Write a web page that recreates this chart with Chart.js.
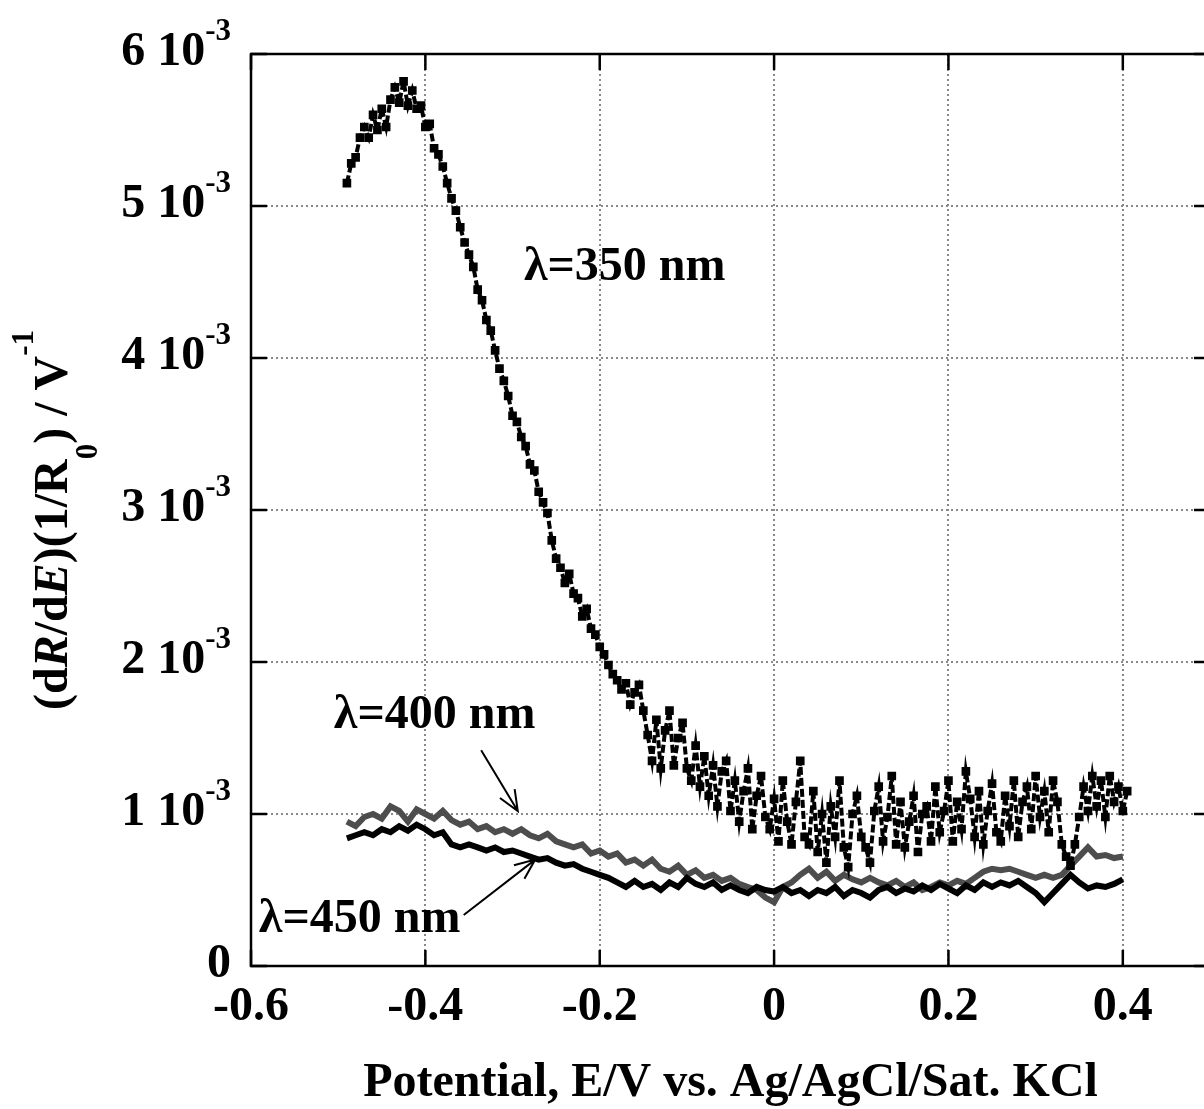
<!DOCTYPE html>
<html><head><meta charset="utf-8">
<script src="https://cdn.jsdelivr.net/npm/chart.js@4.4.1/dist/chart.umd.min.js"></script>
<style>
html,body{margin:0;padding:0;overflow:hidden;background:#fff;}
#wrap{width:1240px;height:1109px;position:relative;}
</style></head><body>
<div id="wrap"><canvas id="c"></canvas></div>
<script>
// Potential (V) for the 350 nm trace
const E350 = [
-0.490,-0.485,-0.480,-0.475,-0.470,-0.465,-0.460,-0.455,-0.450,-0.445,-0.440,-0.435,-0.430,-0.425,-0.420,-0.415,-0.410,
-0.405,-0.400,-0.395,-0.390,-0.385,-0.380,-0.375,-0.370,-0.365,-0.360,-0.355,-0.350,-0.345,-0.340,-0.335,-0.330,-0.325,-0.320,-0.315,-0.310,
-0.305,-0.300,-0.295,-0.290,-0.285,-0.280,-0.275,-0.270,-0.265,-0.260,-0.255,-0.250,-0.245,-0.240,-0.235,-0.230,-0.225,-0.220,-0.215,-0.210,
-0.205,-0.200,-0.195,-0.190,-0.185,-0.180,-0.175,-0.170,-0.165,-0.160,-0.155,-0.150,-0.145,-0.140,-0.135,-0.130,-0.125,-0.120,-0.115,-0.110,
-0.105,-0.100,-0.095,-0.090,-0.085,-0.080,-0.075,-0.070,-0.065,-0.060,-0.055,-0.050,-0.045,-0.040,-0.035,-0.030,-0.025,-0.020,-0.015,-0.010,
-0.005,0.000,0.005,0.010,0.015,0.020,0.025,0.030,0.035,0.040,0.045,0.050,0.055,0.060,0.065,0.070,0.075,0.080,0.085,0.090,
0.095,0.100,0.105,0.110,0.115,0.120,0.125,0.130,0.135,0.140,0.145,0.150,0.155,0.160,0.165,0.170,0.175,0.180,0.185,0.190,
0.195,0.200,0.205,0.210,0.215,0.220,0.225,0.230,0.235,0.240,0.245,0.250,0.255,0.260,0.265,0.270,0.275,0.280,0.285,0.290,
0.295,0.300,0.305,0.310,0.315,0.320,0.325,0.330,0.335,0.340,0.345,0.350,0.355,0.360,0.365,0.370,0.375,0.380,0.385,0.390,0.395,0.400,0.405
];
// (dR/dE)(1/R0) at 350 nm, in units of 10^-3 V^-1
const R350 = [
5.15,5.28,5.32,5.45,5.52,5.45,5.60,5.50,5.64,5.52,5.70,5.78,5.68,5.82,5.66,5.76,5.64,
5.66,5.52,5.54,5.38,5.34,5.26,5.15,5.05,4.97,4.86,4.76,4.68,4.60,4.45,4.38,4.25,4.18,4.05,3.93,3.85,
3.75,3.62,3.58,3.48,3.42,3.30,3.26,3.12,3.05,2.98,2.80,2.68,2.62,2.52,2.58,2.45,2.42,2.30,2.35,2.22,
2.18,2.10,2.05,1.98,1.92,1.88,1.82,1.86,1.72,1.80,1.85,1.68,1.52,1.35,1.62,1.30,1.55,1.68,1.32,1.50,
1.60,1.30,1.22,1.45,1.18,1.38,1.12,1.32,1.05,1.28,1.35,1.02,1.22,0.95,1.15,1.30,0.90,1.12,1.25,0.98,
0.90,1.10,0.82,1.22,0.95,0.80,1.08,1.35,0.85,0.80,1.15,0.75,1.00,0.68,1.05,0.85,1.22,0.78,0.65,1.00,
1.12,0.85,0.78,0.68,1.02,1.18,0.82,0.98,1.25,0.80,1.08,0.78,0.95,1.12,0.75,1.00,1.05,0.82,1.18,0.88,
1.02,1.22,0.82,1.08,0.90,1.28,1.10,0.85,1.15,0.80,1.02,1.20,0.88,0.82,1.12,0.92,1.22,0.85,1.08,1.18,
0.90,1.25,0.98,1.15,0.88,1.22,1.08,0.80,0.72,0.66,0.80,0.98,1.18,1.02,1.25,1.05,1.22,0.98,1.25,1.08,1.18,1.02,1.15
];
// Potential (V) for the 400 nm and 450 nm traces
const E_LOW = [
-0.49,-0.48,-0.47,-0.46,-0.45,-0.44,-0.43,-0.42,-0.41,-0.40,
-0.39,-0.38,-0.37,-0.36,-0.35,-0.34,-0.33,-0.32,-0.31,-0.30,
-0.29,-0.28,-0.27,-0.26,-0.25,-0.24,-0.23,-0.22,-0.21,-0.20,
-0.19,-0.18,-0.17,-0.16,-0.15,-0.14,-0.13,-0.12,-0.11,-0.10,
-0.09,-0.08,-0.07,-0.06,-0.05,-0.04,-0.03,-0.02,-0.01,0.00,
0.01,0.02,0.03,0.04,0.05,0.06,0.07,0.08,0.09,0.10,
0.11,0.12,0.13,0.14,0.15,0.16,0.17,0.18,0.19,0.20,
0.21,0.22,0.23,0.24,0.25,0.26,0.27,0.28,0.29,0.30,
0.31,0.32,0.33,0.34,0.35,0.36,0.37,0.38,0.39,0.40
];
const R400 = [
0.95,0.92,0.98,1.00,0.97,1.05,1.02,0.95,1.03,1.00,
0.97,1.02,0.96,0.93,0.95,0.90,0.92,0.88,0.90,0.87,
0.90,0.86,0.84,0.87,0.82,0.80,0.78,0.80,0.74,0.76,
0.72,0.74,0.68,0.70,0.66,0.70,0.64,0.62,0.66,0.60,
0.63,0.58,0.60,0.56,0.58,0.54,0.52,0.50,0.45,0.42,
0.52,0.55,0.60,0.64,0.58,0.62,0.56,0.60,0.57,0.55,
0.58,0.55,0.53,0.56,0.52,0.55,0.50,0.52,0.55,0.53,
0.56,0.54,0.58,0.62,0.64,0.63,0.64,0.62,0.60,0.58,
0.60,0.58,0.60,0.66,0.72,0.78,0.72,0.73,0.71,0.72
];
const R450 = [
0.84,0.86,0.88,0.86,0.90,0.88,0.92,0.89,0.93,0.90,
0.86,0.88,0.80,0.78,0.80,0.78,0.76,0.78,0.75,0.76,
0.74,0.72,0.70,0.71,0.68,0.66,0.67,0.64,0.62,0.60,
0.58,0.55,0.52,0.56,0.52,0.54,0.50,0.55,0.52,0.58,
0.54,0.52,0.55,0.50,0.53,0.50,0.48,0.52,0.50,0.49,
0.52,0.48,0.50,0.46,0.50,0.48,0.52,0.46,0.50,0.48,
0.45,0.50,0.52,0.48,0.51,0.49,0.53,0.50,0.54,0.51,
0.48,0.53,0.50,0.55,0.52,0.55,0.53,0.56,0.52,0.48,
0.42,0.48,0.54,0.60,0.55,0.51,0.53,0.52,0.54,0.57
];
const X_TICKS = [-0.6,-0.4,-0.2,0,0.2,0.4];
const X_TICK_LABELS = ['-0.6','-0.4','-0.2','0','0.2','0.4'];
const Y_TICKS = [0,1e-3,2e-3,3e-3,4e-3,5e-3,6e-3];
const Y_TICK_MAIN = ['0','1 10','2 10','3 10','4 10','5 10','6 10'];
const Y_TICK_EXP = ['','-3','-3','-3','-3','-3','-3'];
const X_TITLE = 'Potential, E/V vs. Ag/AgCl/Sat. KCl';
const LABELS = [
  {text:'\u03bb=350 nm', x:-0.287, y:4.51e-3},
  {text:'\u03bb=400 nm', x:-0.505, y:1.566e-3},
  {text:'\u03bb=450 nm', x:-0.591, y:0.224e-3}
];
const ARROWS = [
  {x1:-0.336, y1:1.42e-3, x2:-0.294, y2:1.02e-3},
  {x1:-0.356, y1:0.336e-3, x2:-0.274, y2:0.70e-3}
];

const SERIF = '"Liberation Serif", "Times New Roman", serif';
const toPts = (xs, ys) => xs.map((x,i)=>({x:x, y:ys[i]*1e-3}));

const decor = {
  id:'decor',
  afterDraw(chart){
    const ctx = chart.ctx, a = chart.chartArea;
    const xs = chart.scales.x, ys = chart.scales.y;
    ctx.save();
    ctx.strokeStyle = '#000'; ctx.lineWidth = 2.5;
    ctx.strokeRect(a.left, a.top, a.right-a.left, a.bottom-a.top);
    ctx.beginPath();
    X_TICKS.forEach(v=>{
      const p = xs.getPixelForValue(v);
      ctx.moveTo(p, a.bottom); ctx.lineTo(p, a.bottom-16);
      ctx.moveTo(p, a.top); ctx.lineTo(p, a.top+16);
    });
    Y_TICKS.forEach(v=>{
      const p = ys.getPixelForValue(v);
      ctx.moveTo(a.left, p); ctx.lineTo(a.left+16, p);
      ctx.moveTo(a.right, p); ctx.lineTo(a.right-16, p);
    });
    ctx.stroke();
    ctx.fillStyle = '#000';
    ctx.textBaseline = 'alphabetic';
    ctx.textAlign = 'left';
    const R = 231;
    Y_TICKS.forEach((v,i)=>{
      const p = ys.getPixelForValue(v);
      ctx.font = 'bold 31px ' + SERIF;
      const wS = Y_TICK_EXP[i] ? ctx.measureText(Y_TICK_EXP[i]).width : 0;
      ctx.font = 'bold 48px ' + SERIF;
      const wM = ctx.measureText(Y_TICK_MAIN[i]).width;
      ctx.fillText(Y_TICK_MAIN[i], R - wS - wM, p + 11);
      if (Y_TICK_EXP[i]) {
        ctx.font = 'bold 31px ' + SERIF;
        ctx.fillText(Y_TICK_EXP[i], R - wS, p - 14);
      }
    });
    const segs = [
      {t:'(d', f:'bold 48px '},
      {t:'R', f:'italic bold 48px '},
      {t:'/d', f:'bold 48px '},
      {t:'E', f:'italic bold 48px '},
      {t:')(1/R', f:'bold 48px '},
      {t:'0', f:'bold 31px ', dy:30},
      {t:') / V', f:'bold 48px '},
      {t:'-1', f:'bold 31px ', dy:-34}
    ];
    let total = 0;
    segs.forEach(s=>{ ctx.font = s.f + SERIF; s.w = ctx.measureText(s.t).width; total += s.w; });
    ctx.save();
    ctx.translate(67, (a.top+a.bottom)/2 + 10);
    ctx.rotate(-Math.PI/2);
    let cx = -total/2;
    segs.forEach(s=>{ ctx.font = s.f + SERIF; ctx.fillText(s.t, cx, s.dy||0); cx += s.w; });
    ctx.restore();
    ctx.font = 'bold 48px ' + SERIF;
    LABELS.forEach(l=>{
      ctx.fillText(l.text, xs.getPixelForValue(l.x), ys.getPixelForValue(l.y));
    });
    ctx.lineWidth = 2;
    ARROWS.forEach(ar=>{
      const x1 = xs.getPixelForValue(ar.x1), y1 = ys.getPixelForValue(ar.y1);
      const x2 = xs.getPixelForValue(ar.x2), y2 = ys.getPixelForValue(ar.y2);
      const ang = Math.atan2(y2-y1, x2-x1), L = 22, w = 0.4;
      ctx.beginPath();
      ctx.moveTo(x1,y1); ctx.lineTo(x2,y2);
      ctx.moveTo(x2 - L*Math.cos(ang-w), y2 - L*Math.sin(ang-w));
      ctx.lineTo(x2,y2);
      ctx.lineTo(x2 - L*Math.cos(ang+w), y2 - L*Math.sin(ang+w));
      ctx.stroke();
    });
    ctx.restore();
  }
};

new Chart(document.getElementById('c'), {
  type:'scatter',
  data:{datasets:[
    {label:'\u03bb=350 nm', data:toPts(E350,R350), showLine:true, pointStyle:'rect',
     pointRadius:3.3, backgroundColor:'#000', borderColor:'#000', borderWidth:4,
     borderDash:[8,3], tension:0, order:0},
    {label:'\u03bb=450 nm', data:toPts(E_LOW,R450), showLine:true, pointRadius:0,
     borderColor:'#000', borderWidth:6, tension:0, order:1},
    {label:'\u03bb=400 nm', data:toPts(E_LOW,R400), showLine:true, pointRadius:0,
     borderColor:'#4d4d4d', borderWidth:6, tension:0, order:2}
  ]},
  options:{
    responsive:true, maintainAspectRatio:false, animation:false,
    layout:{padding:{left:0, top:54, right:30, bottom:0}},
    plugins:{legend:{display:false}, tooltip:{enabled:false}},
    scales:{
      x:{type:'linear', min:-0.6, max:0.5,
        afterBuildTicks(s){ s.ticks = X_TICKS.map(v=>({value:v})); },
        afterFit(s){ s.height = 143; },
        grid:{color:'#888', lineWidth:2, drawTicks:false},
        border:{display:false, dash:[2,3]},
        ticks:{padding:13, color:'#000', font:{family:SERIF, size:48, weight:'bold'},
          callback(v){ const i = X_TICKS.findIndex(t=>Math.abs(t-v)<1e-9); return i>=0 ? X_TICK_LABELS[i] : ''; },
          maxRotation:0, autoSkip:false},
        title:{display:true, text:X_TITLE, color:'#000', font:{family:SERIF, size:48, weight:'bold'}, padding:{top:0, bottom:-3}}
      },
      y:{type:'linear', min:0, max:6e-3,
        afterBuildTicks(s){ s.ticks = Y_TICKS.map(v=>({value:v})); },
        afterFit(s){ s.width = 251; },
        grid:{color:'#888', lineWidth:2, drawTicks:false},
        border:{display:false, dash:[2,3]},
        ticks:{display:false}
      }
    }
  },
  plugins:[decor]
});
</script>
</body></html>
